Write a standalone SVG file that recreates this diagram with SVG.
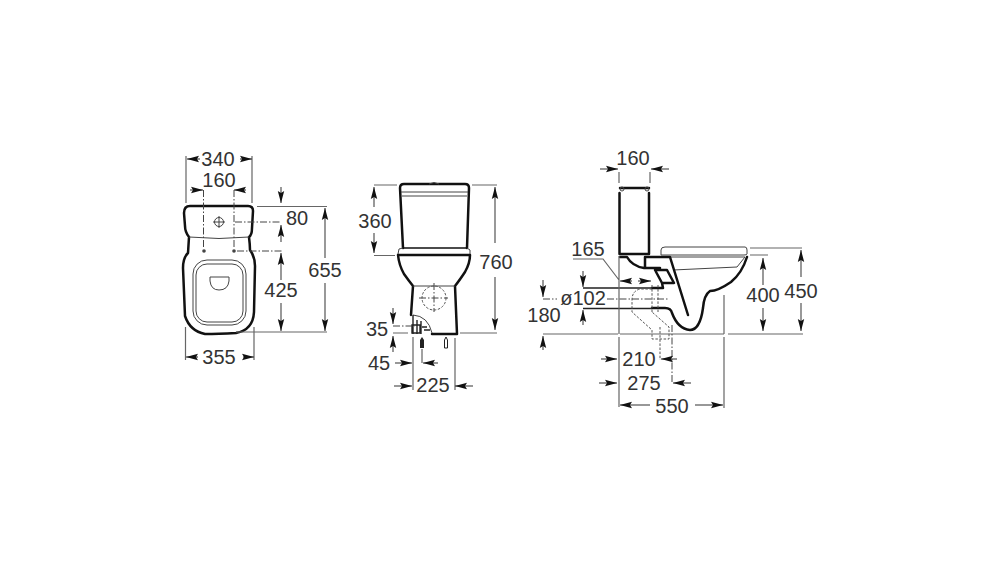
<svg xmlns="http://www.w3.org/2000/svg" width="1000" height="565" viewBox="0 0 1000 565">
<style>
.t{font-family:"Liberation Sans",Arial,sans-serif;font-size:20px;fill:#333;text-anchor:middle}
.o{fill:none;stroke:#111;stroke-width:2.5;stroke-linejoin:round;stroke-linecap:round}
.m{fill:none;stroke:#444;stroke-width:1}
.d{fill:none;stroke:#555;stroke-width:1;stroke-dasharray:2.5 1.6}
.c{fill:none;stroke:#444;stroke-width:1;stroke-dasharray:7 2 1.5 2}
.e{fill:none;stroke:#666;stroke-width:1.2}
.l{fill:none;stroke:#222;stroke-width:1.3}
.a{fill:none;stroke:#444;stroke-width:1.1;marker-end:url(#ar)}
</style>
<defs>
<marker id="ar" markerUnits="userSpaceOnUse" markerWidth="13" markerHeight="8" refX="12" refY="4" orient="auto"><path d="M0,.8 L12,4 L0,7.200 L2,4 Z" fill="#111"/></marker>
</defs>
<rect width="1000" height="565" fill="#fff"/>
<g id="plan-view">
<path class="o" d="M190,206 H248 Q253,206 253,211 L252,228 Q252,235 249,237 Q250,245 250,250 Q255,257 255,266 L254,312 Q253,330 236,333 Q218,334 205,334 Q190,331 185,316 L183,268 Q183,258 188,253 L189,237 Q185,232 185,226 L184,213 Q184,206 190,206 Z"/>
<path class="m" d="M189,237 Q219,240 249,237"/>
<rect class="m" x="193" y="260" width="53" height="65" rx="14"/>
<rect class="m" x="196" y="264" width="47" height="58" rx="11"/>
<path class="m" d="M210,277 H229 V281 Q228,290 219,290 Q211,290 210,281 Z"/>
<circle class="m" cx="219" cy="222" r="4.5"/>
<path class="m" d="M213,222 H225 M219,216 V228"/>
<circle cx="204" cy="251" r="1.8" fill="#444"/><circle cx="234" cy="251" r="1.8" fill="#444"/>
<path class="c" d="M203.500,190 V249 M234,190 V249 M235,222 H281 M237,251 H282"/>
<path class="e" d="M186,156 V203 M252,156 V203 M257,206.500 H327 M236,332 H327 M185.500,327 V360 M254,327 V360"/>
<path class="a" d="M200,159 H187"/><path class="a" d="M240,159 H252"/>
<path class="a" d="M190,190 H203"/><path class="a" d="M246,190 H234"/>
<path class="a" d="M281,187 V203"/><path class="a" d="M281,242 V225"/>
<path class="a" d="M281,280 V253"/><path class="a" d="M281,303 V331"/>
<path class="a" d="M325,258 V208"/><path class="a" d="M325,283 V331"/>
<path class="a" d="M198,357 H186"/><path class="a" d="M243,357 H254"/>
<text class="t" x="218" y="166">340</text><text class="t" x="219" y="187">160</text>
<text class="t" x="297" y="225">80</text><text class="t" x="325" y="277">655</text>
<text class="t" x="281" y="297">425</text><text class="t" x="219" y="364">355</text>
</g>
<g id="front-view">
<path class="o" d="M403,248 L400,188 Q400,184 404,184 H465 Q469,184 469,188 L467,248"/>
<path class="m" d="M401,192 H468 M402,196 H467"/>
<path class="m" d="M429,184 Q434,181 439,184"/>
<path class="o" d="M403,248 H467" style="stroke-width:1.500"/>
<path class="m" d="M403,248 L399,249 L398,254 M467,248 L470,250 L470,254"/>
<path class="o" d="M398,255 H470 Q470,263 465,272 Q459,281 455,286 L457,334 H432 M398,255 Q399,265 404,274 Q409,281 413,286 L411,315"/>
<path class="m" d="M413,286 H455"/>
<path class="m" d="M413,315 Q428,316 432,333"/>
<circle cx="434" cy="298" r="12" class="d"/>
<path class="c" d="M434,283 V312 M419,298 H448"/>
<path d="M412,325 h8 v8 h-8 Z M413,315 v19 M417,320 v14 M421,321 v13 M424,330 h6 M422,327 h5" fill="none" stroke="#222" stroke-width="1.400"/>
<path d="M420,340 L422,337 L424,340 L424,348 H420 Z" fill="#222"/>
<path d="M444.500,340 L446,337 L447.500,340 L447.500,348 H444.500 Z" fill="#fff" stroke="#222"/>
<path class="e" d="M374,185 H397 M472,185 H497 M374,255.500 H395 M460,333 H497 M393,333 H408 M413,337 V390 M455,338 V390"/>
<path class="c" d="M393,326 H415"/>
<path class="m" d="M422,349 V363"/>
<path class="a" d="M374,207 V187"/><path class="a" d="M374,233 V253"/>
<path class="a" d="M495,243 V187"/><path class="a" d="M495,277 V330"/>
<path class="a" d="M393,308 V324"/><path class="a" d="M393,352 V336"/>
<path class="a" d="M395,363 H412"/><path class="a" d="M438,363 H423"/>
<path class="a" d="M394,386 H412"/><path class="a" d="M473,386 H455"/>
<text class="t" x="375" y="228">360</text><text class="t" x="496" y="269">760</text>
<text class="t" x="377" y="336">35</text><text class="t" x="379" y="370">45</text>
<text class="t" x="433" y="392">225</text>
</g>
<g id="side-view">
<path class="o" d="M620,188 H649 M619.500,193 V254 H649 V193"/>
<circle class="m" cx="622" cy="189" r="2"/><circle class="m" cx="647" cy="189" r="2"/>
<path class="m" d="M661,255 V250 Q661,247 665,247 H745 Q747,247 747,250 V254 Q747,255 744,255 H661 M670,257 H745 M673,270 L737,267 L745,257"/>
<path class="o" d="M620,257 H627 Q632,266 644,268 M645,257 V268 H660 M645,257 H670 L688,315 M655,270 H667 L674,283 H662 L655,270 M662,283 L663,288 H652 M747,257 Q742,273 731,282 Q718,291 710,291 Q704,295 703,308 Q700,330 690,330 Q678,329 672,313 Q671,308 665,308 H652"/>
<path class="l" d="M583,288 H652 M583,308.500 H652"/>
<path class="d" d="M652,285 V312 M658,285 V312 M652,289 H640 Q632,291 632,300 V312 L652,330 V339 H669 L669,327 L652,312"/>
<path class="e" d="M619,256 V334 M619,337 V407 M724,295 V334 M724,337 V408 M543,334 H618 M620,334 H724 M728,334 H803 M573,259 H603 L619,280 M750,248 H802 M750,255 H768"/>
<path class="c" d="M607,299 H668 M543,299 H557"/>
<path class="c" d="M672,325 V383"/><path class="d" d="M660,327 V360"/>
<path class="e" d="M619,172 V183 M650,172 V183"/>
<path class="a" d="M600,169 H618"/><path class="a" d="M669,169 H651"/>
<path class="a" d="M632,281 H620"/><path class="a" d="M638,281 H651"/>
<path class="a" d="M583,271 V287"/><path class="a" d="M583,325 V310"/>
<path class="a" d="M543,280 V297"/><path class="a" d="M543,350 V336"/>
<path class="a" d="M601,359 H617"/><path class="a" d="M677,359 H661"/>
<path class="a" d="M599,383 H617"/><path class="a" d="M691,383 H673"/>
<path class="a" d="M650,405 H620"/><path class="a" d="M695,405 H723"/>
<path class="a" d="M763,285 V258"/><path class="a" d="M763,308 V331"/>
<path class="a" d="M801,277 V250"/><path class="a" d="M801,303 V331"/>
<text class="t" x="633" y="165">160</text><text class="t" x="588" y="256">165</text>
<text class="t" x="583" y="305">ø102</text><text class="t" x="544" y="322">180</text>
<text class="t" x="639" y="366">210</text><text class="t" x="644" y="390">275</text>
<text class="t" x="672" y="413">550</text><text class="t" x="763" y="302">400</text>
<text class="t" x="801" y="298">450</text>
</g>
</svg>
